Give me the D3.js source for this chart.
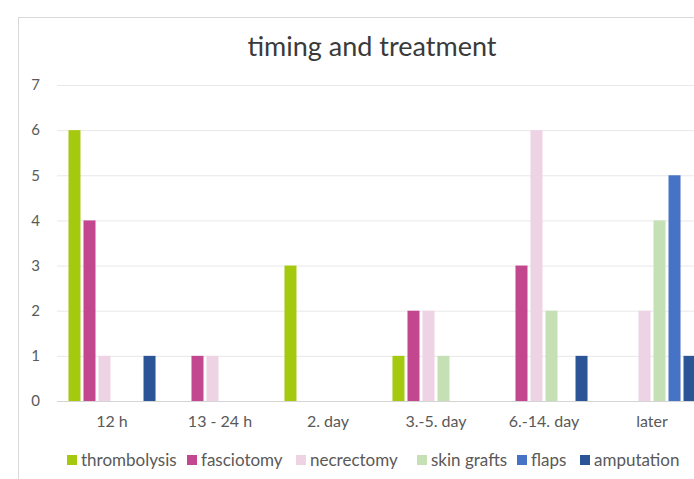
<!DOCTYPE html>
<html lang="en">
<head>
    <meta charset="UTF-8">
    <title>timing and treatment</title>
    <style>
        body { margin: 0; background: #fff; }
        text { font-family: Lato, "Open Sans", sans-serif; }
    </style>
</head>
<body>
<svg height="479" width="694"></svg>

<script src="https://d3js.org/d3.v7.min.js"></script>
<script>

    var categories = ["12 h", "13 - 24 h", "2. day", "3.-5. day", "6.-14. day", "later"];
    var seriesNames = ["thrombolysis", "fasciotomy", "necrectomy", "skin grafts", "flaps", "amputation"];
    var seriesColors = ["#a5c90f", "#c2478e", "#eed3e5", "#c6e0b6", "#4673c6", "#2c5597"];

    var thrombolysis = [6, 0, 3, 1, 0, 0];
    var fasciotomy   = [4, 1, 0, 2, 3, 0];
    var necrectomy   = [1, 1, 0, 2, 6, 2];
    var skinGrafts   = [0, 0, 0, 1, 2, 4];
    var flaps        = [0, 0, 0, 0, 0, 5];
    var amputation   = [1, 0, 0, 0, 1, 1];
    var yTicks = [0, 1, 2, 3, 4, 5, 6, 7];

    var seriesValues = [thrombolysis, fasciotomy, necrectomy, skinGrafts, flaps, amputation];

    var svg = d3.select("svg");

    // chart frame (cut off on the right and bottom, like the screenshot)
    svg.append("rect")
        .attr("x", 18.5).attr("y", 17.5)
        .attr("width", 700).attr("height", 470)
        .attr("fill", "#fff")
        .attr("stroke", "#d9d9d9");

    svg.append("text")
        .attr("x", 372).attr("y", 56)
        .attr("text-anchor", "middle")
        .attr("font-size", 27)
        .attr("fill", "#3a3a3a")
        .text("timing and treatment");

    var catScale = d3.scaleBand().domain(categories).range([58, 706]).paddingInner(0.194).paddingOuter(0.097);
    var serScale = d3.scaleBand().domain(seriesNames).range([0, catScale.bandwidth()]).paddingInner(0.2);
    var yScale = d3.scaleLinear().domain([0, 7]).range([401, 85]);
    var colorScale = d3.scaleOrdinal().domain(seriesNames).range(seriesColors);

    // gridlines
    var grid = d3.axisLeft(yScale).tickValues(yTicks).tickSize(-700).tickFormat("");
    svg.append("g")
        .attr("transform", "translate(57,0)")
        .call(grid)
        .call(function(g) {
            g.select(".domain").remove();
            g.selectAll("line").attr("stroke", "#e8e8e8");
            g.selectAll(".tick").filter(function(d) { return d === 0; }).select("line").attr("stroke", "#d4d4d4");
        });

    // y tick labels
    var yAxis = d3.axisLeft(yScale).tickValues(yTicks).tickSize(0).tickPadding(0).tickFormat(d3.format("d"));
    svg.append("g")
        .attr("transform", "translate(40,0)")
        .call(yAxis)
        .call(function(g) {
            g.select(".domain").remove();
            g.selectAll("text").attr("font-size", 15).attr("fill", "#595959").attr("font-family", "Lato, sans-serif");
        });

    // bars
    var rows = categories.map(function(c, i) {
        return seriesNames.map(function(s, j) { return {cat: c, ser: s, value: seriesValues[j][i]}; });
    });

    svg.append("g").selectAll("g")
        .data(rows)
        .enter().append("g")
        .attr("transform", function(d, i) { return "translate(" + catScale(categories[i]) + ",0)"; })
        .selectAll("rect")
        .data(function(d) { return d; })
        .enter().append("rect")
        .attr("x", function(d) { return serScale(d.ser); })
        .attr("width", serScale.bandwidth())
        .attr("y", function(d) { return yScale(d.value); })
        .attr("height", function(d) { return yScale(0) - yScale(d.value); })
        .attr("fill", function(d) { return colorScale(d.ser); });

    // x axis labels
    var xAxis = d3.axisBottom(catScale).tickSize(0).tickPadding(0);
    svg.append("g")
        .attr("transform", "translate(0,416)")
        .call(xAxis)
        .call(function(g) {
            g.select(".domain").remove();
            g.selectAll("text").attr("font-size", 16).attr("fill", "#595959").attr("font-family", "Lato, sans-serif");
        });

    // legend
    var legendX = [67, 187, 296, 417, 517, 580];
    var legend = svg.append("g").selectAll("g")
        .data(seriesNames)
        .enter().append("g")
        .attr("transform", function(d, i) { return "translate(" + legendX[i] + ",455)"; });

    legend.append("rect")
        .attr("width", 10).attr("height", 10)
        .attr("fill", function(d) { return colorScale(d); });

    legend.append("text")
        .attr("x", 14).attr("y", 11)
        .attr("font-size", 17)
        .attr("fill", "#595959")
        .text(function(d) { return d; });
</script>
</body>
</html>
